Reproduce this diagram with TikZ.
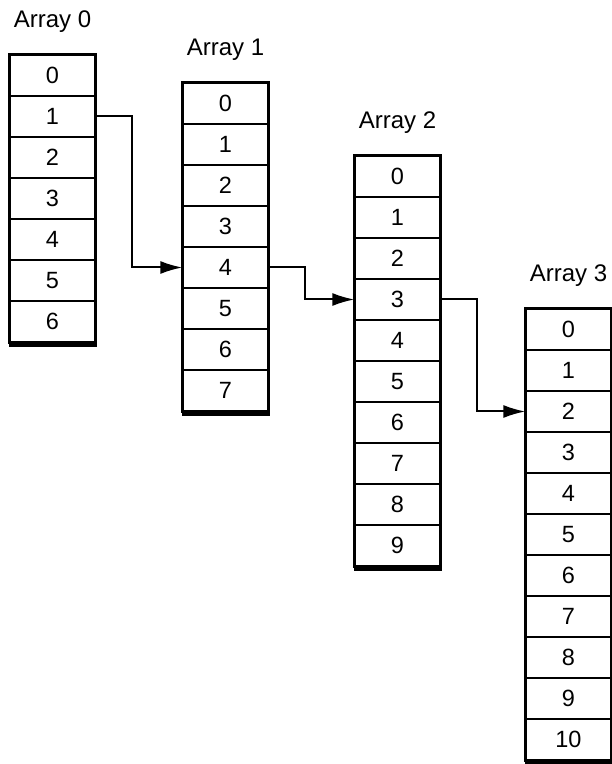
\documentclass[tikz,border=0pt]{standalone}
\usepackage{fontspec}
\setmainfont{Liberation Sans}
\usetikzlibrary{arrows.meta}

\begin{document}
\begin{tikzpicture}[x=1pt, y=1pt,
    % Styles
    cell/.style={draw, line width=1.3pt, minimum width=85pt, minimum height=41pt, inner sep=0pt, font=\fontsize{23.5}{24}\selectfont},
    title/.style={anchor=base, inner sep=0pt, font=\fontsize{24}{24}\selectfont},
    frame/.style={draw, line width=2pt},
    floor/.style={line width=4.5pt},
    link/.style={-{Latex[length=22pt, width=13pt]}, line width=2pt},
]
\useasboundingbox (0,0) rectangle (612,764);

% Arrays: number / centre x / top y / last index
\foreach \n/\x/\top/\last in {0/52.5/709/6, 1/225.5/681/7, 2/397.5/608/9, 3/568.5/455/10} {
    \node[title] (title\n) at (\x, \top+27) {Array \n};
    \foreach \i in {0,...,\last}
        \node[cell] (a\n-\i) at (\x, \top-20.5-41*\i) {\i};
    \draw[frame] (a\n-0.north west) rectangle (a\n-\last.south east);
    \draw[floor] ([yshift=-2pt]a\n-\last.south west) -- ([xshift=1.5pt, yshift=-2pt]a\n-\last.south east);
}

% Links between arrays
\draw[link] (a0-1.east) -- ++(36,0) |- (a1-4.west);
\draw[link] (a1-4.east) -- ++(36,0) |- (a2-3.west);
\draw[link] (a2-3.east) -- ++(36,0) |- (a3-2.west);

\end{tikzpicture}
\end{document}
